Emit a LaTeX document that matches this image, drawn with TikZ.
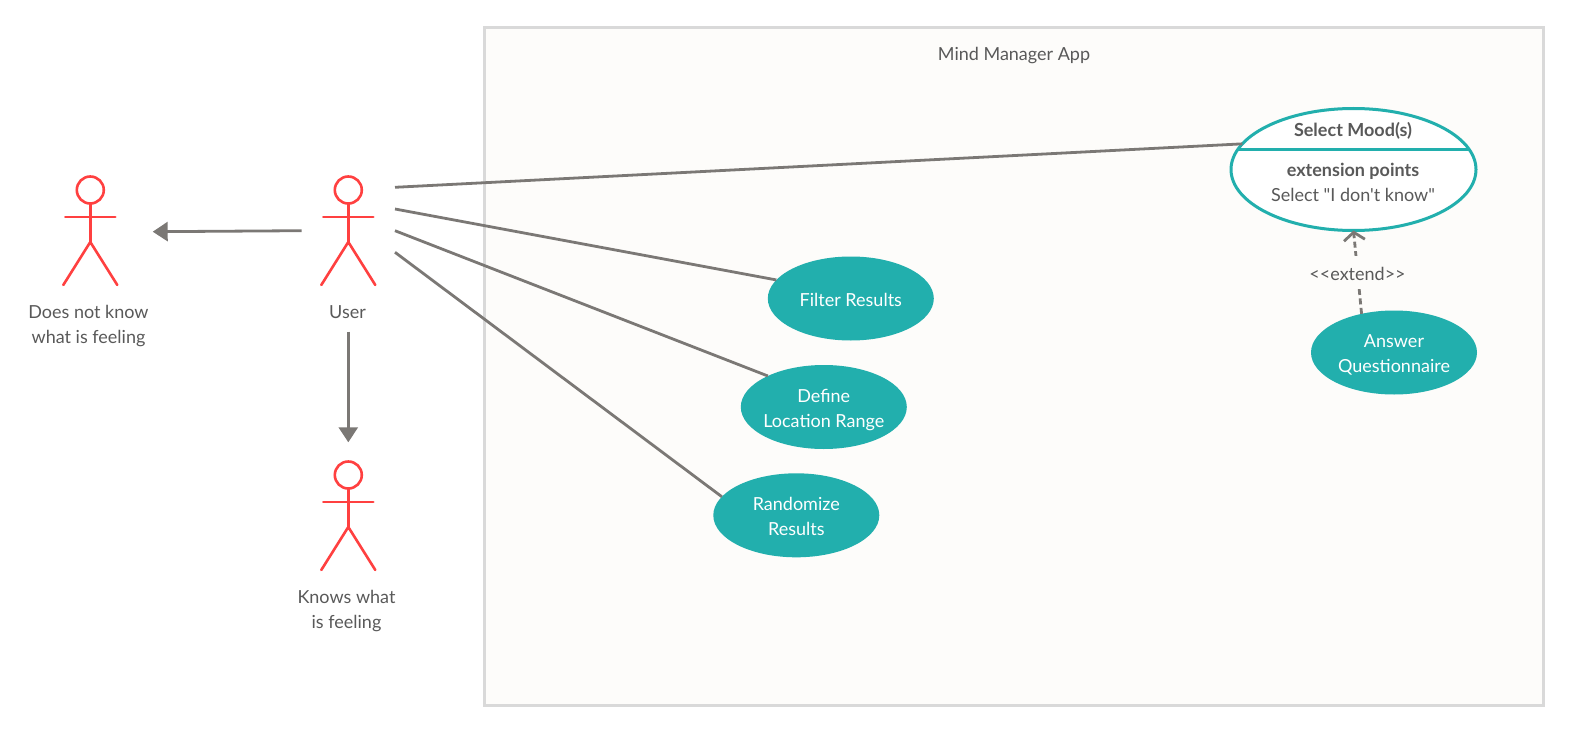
\documentclass[tikz,border=0pt]{standalone}
\usepackage{fontspec}
\setmainfont{Lato}[Ligatures=TeXOff]
\usetikzlibrary{arrows.meta,shapes.geometric}
\definecolor{tealfill}{HTML}{22AFAD}
\definecolor{actorred}{HTML}{FF4040}
\definecolor{linegray}{HTML}{7B7875}
\definecolor{textgray}{HTML}{595959}
\definecolor{framegray}{HTML}{D9D9D9}
\definecolor{framefill}{HTML}{FDFCFA}
\newcommand{\lift}{\rule{0pt}{21pt}}
\begin{document}
\begin{tikzpicture}[x=1pt, y=-1pt,
  every node/.style={text=textgray, align=center, inner sep=0pt, outer sep=0pt},
  caption/.style={font=\fontsize{18}{25}\selectfont, execute at begin node=\rule{0pt}{22pt}, execute at end node=\rule[-6pt]{0pt}{6pt}},
  usecase/.style={caption, ellipse, fill=tealfill, text=white, inner sep=-5pt, minimum width=166pt, minimum height=84pt},
  actorhead/.style={circle, draw=actorred, line width=2.6pt, minimum size=27pt},
  actorline/.style={draw=actorred, line width=2.6pt, line cap=round},
  assoc/.style={draw=linegray, line width=2.8pt},
  gen/.style={assoc, -{Triangle[length=15pt,width=19pt]}}
]
\useasboundingbox (0,0) rectangle (1571,733);

\node (frame) [draw=framegray, fill=framefill, line width=3pt, minimum width=1059pt, minimum height=678pt] at (1013.8,366.5) {};
\node (title) [caption] at (1014,53) {Mind Manager App};

% actors
\foreach \nm/\px/\py in {unsure/90.3/190, user/348.3/190, knows/348.3/475} {
  \node (\nm) [actorhead] at (\px,\py) {};
  \draw [actorline] (\nm.south) -- (\px,\py+52);
  \draw [actorline] (\px-25,\py+27) -- (\px+25,\py+27);
  \draw [actorline] (\px-27,\py+95) -- (\px,\py+52) -- (\px+27,\py+95);
}
\node (unsurelabel) [caption] at (88.5,323.5) {\lift Does not know\\what is feeling};
\node (userlabel) [caption] at (347.5,310) {User};
\node (knowslabel) [caption] at (346.5,608.5) {\lift Knows what\\is feeling};

% use cases
\node (filter) [usecase] at (850.8,298.5) {Filter Results};
\node (define) [usecase] at (823.8,407) {\lift Define\\Location Range};
\node (randomize) [usecase] at (796.3,515.3) {\lift Randomize\\Results};
\node (answer) [usecase] at (1394,352.5) {\lift Answer\\Questionnaire};

\node (mood) [ellipse, draw=tealfill, fill=white, line width=3pt, minimum width=245pt, minimum height=122pt] at (1353.5,169.5) {};
\coordinate (divleft) at (1237.9,149.3);
\coordinate (divright) at (1469.1,149.3);
\draw [draw=tealfill, line width=3pt] (divleft) -- (divright);
\node (moodtitle) [caption] at (1353,129) {\bfseries Select Mood(s)};
\node (moodext) [caption] at (1353,181.5) {\lift\textbf{extension points}\\Select "I don't know"};

% free ends beside the user
\coordinate (u1) at (395,187.3);
\coordinate (u2) at (395,209);
\coordinate (u3) at (395,230.7);
\coordinate (u4) at (395,252.3);
\coordinate (u5) at (301.7,230.7);
\coordinate (u6) at (348.3,331.7);
\coordinate (g1) at (152.7,231.7);
\coordinate (g2) at (348.3,442.3);

\draw [assoc] (u1) -- (mood.167.1);
\draw [assoc] (u2) -- (filter.166.3);
\draw [assoc] (u3) -- (define.151.5);
\draw [assoc] (u4) -- (randomize.166.5);
\draw [gen] (u5) -- (g1);
\draw [gen] (u6) -- (g2);

\draw [draw=linegray, line width=2.8pt, dash pattern=on 6pt off 3.5pt, -{Straight Barb[length=8pt,width=21pt]}] (answer.130.7) -- (mood.south)
  node (extend) [pos=0.5, caption, fill=framefill, inner xsep=2pt, inner ysep=2.5pt] {<<extend>>};

\end{tikzpicture}
\end{document}
